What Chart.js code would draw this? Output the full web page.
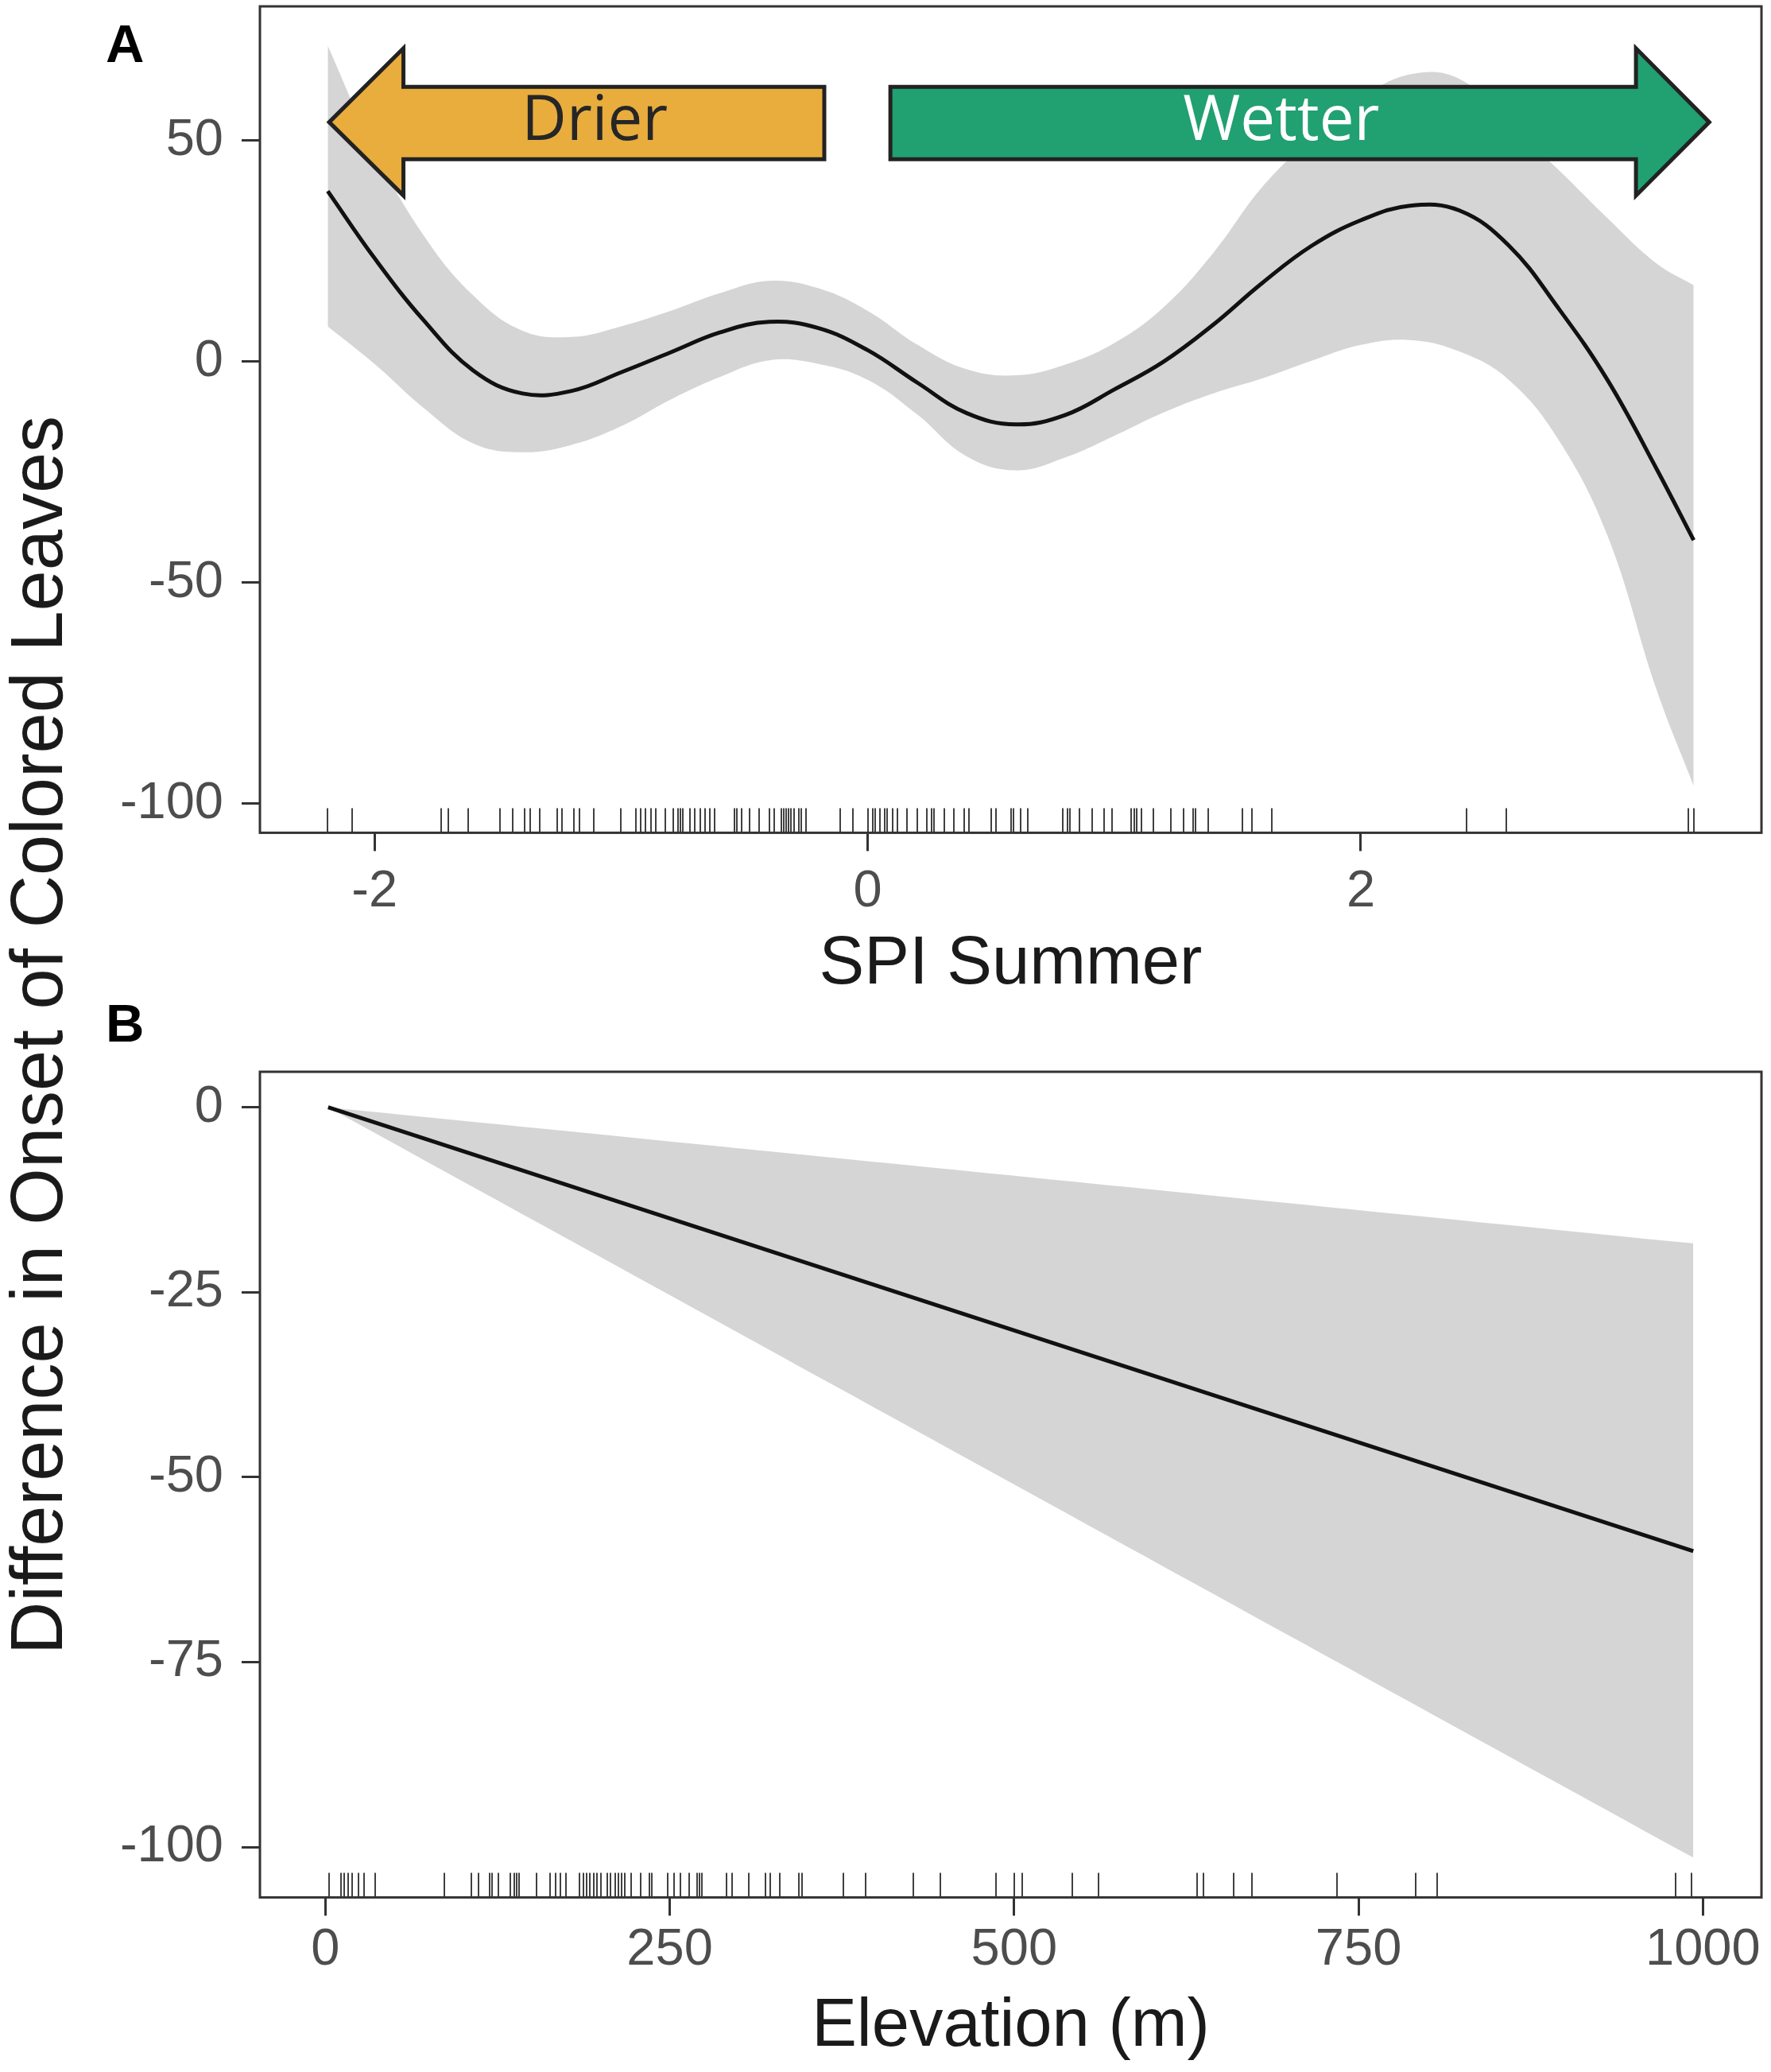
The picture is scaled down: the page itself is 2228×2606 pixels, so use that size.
<!doctype html>
<html lang="en">
  <head>
    <meta charset="utf-8">
    <title>Onset of colored leaves: SPI summer and elevation</title>
    <style>
      * {
        margin: 0;
        padding: 0;
      }
      body {
        width: 2228px;
        height: 2606px;
        position: relative;
        overflow: hidden;
        background: #ffffff;
        font-family: "Liberation Sans", Arial, sans-serif;
      }
      canvas {
        position: absolute;
        left: 0;
      }
      #chartA { top: 0; }
      #chartB { top: 1262px; }
      .panelTag {
        position: absolute;
        left: 133px;
        font-size: 67px;
        font-weight: bold;
        line-height: 1;
        color: #000;
      }
      #yTitle {
        position: absolute;
        left: 46px;
        top: 1302px;
        transform: translate(-50%, -50%) rotate(-90deg);
        white-space: nowrap;
        font-size: 92px;
        line-height: 1;
        color: #1a1a1a;
      }
    </style>
  </head>
  <body>
    <canvas id="chartA" width="2228" height="1262"></canvas>
    <canvas id="chartB" width="2228" height="1344"></canvas>
    <div class="panelTag" style="top:21px">A</div>
    <div class="panelTag" style="top:1253px">B</div>
    <div id="yTitle">Difference in Onset of Colored Leaves</div>

    <script src="https://cdn.jsdelivr.net/npm/chart.js"></script>
    <script>
    // panel A - smooth of SPI summer
    const spiGrid  = [-2.19, -2.0, -1.8, -1.6, -1.4, -1.2, -1.0, -0.8, -0.6, -0.4, -0.2, 0, 0.2, 0.4, 0.6,
                      0.8, 1.0, 1.2, 1.4, 1.6, 1.8, 2.0, 2.2, 2.4, 2.6, 2.8, 3.0, 3.2, 3.35];
    const spiFit   = [38.6, 23.4, 9.3, -2.0, -7.2, -6.6, -2.4, 2.1, 6.6, 9.0, 7.6, 2.6, -4.7, -11.6, -14.2,
                      -12.1, -6.3, 0.0, 8.3, 17.8, 26.2, 32.0, 35.3, 34.2, 26.3, 12.2, -4.1, -24.3, -40.4];
    const spiUpper = [71.5, 47.8, 28.5, 15.0, 7.0, 5.6, 8.0, 11.5, 15.5, 18.3, 16.6, 11.5, 3.9, -1.7, -3.1,
                      -0.7, 4.2, 12.3, 24.5, 39.5, 50.5, 59.5, 65.0, 64.0, 54.0, 43.5, 32.5, 22.2, 17.3];
    const spiLower = [8.0, -0.5, -10.5, -18.5, -20.5, -18.8, -14.6, -8.6, -3.5, 0.3, -0.5, -4.1, -11.9, -21.4, -24.6,
                      -21.7, -16.8, -11.5, -7.2, -3.8, 0.2, 3.8, 4.9, 2.3, -4.1, -17.5, -39.3, -74.3, -96.0];
    const spiRug   = [-2.19, -2.09, -1.73, -1.70, -1.62, -1.49, -1.44, -1.39, -1.37, -1.33, -1.26, -1.24, -1.19,
                      -1.17, -1.11, -1.00, -0.94, -0.92, -0.90, -0.88, -0.86, -0.82, -0.79, -0.77, -0.76, -0.75,
                      -0.72, -0.70, -0.68, -0.66, -0.64, -0.62, -0.54, -0.53, -0.51, -0.48, -0.44, -0.40, -0.38,
                      -0.35, -0.34, -0.33, -0.32, -0.31, -0.30, -0.28, -0.27, -0.25, -0.11, -0.06, 0.00, 0.02,
                      0.03, 0.05, 0.07, 0.08, 0.10, 0.12, 0.16, 0.20, 0.24, 0.26, 0.27, 0.31, 0.35, 0.39, 0.41,
                      0.50, 0.52, 0.58, 0.59, 0.62, 0.65, 0.79, 0.81, 0.82, 0.86, 0.91, 0.96, 0.99, 1.07, 1.08,
                      1.09, 1.11, 1.16, 1.23, 1.28, 1.32, 1.33, 1.38, 1.52, 1.56, 1.64, 2.43, 2.59, 3.33, 3.35];
    const spiTicksX = [-2, 0, 2];
    const spiTicksY = [50, 0, -50, -100];

    // panel B - linear term of elevation
    const elevGrid  = [2, 993];
    const elevFit   = [0, -60.0];
    const elevUpper = [0, -18.4];
    const elevLower = [0, -101.4];
    const elevRug   = [2.7, 11.6, 13.9, 16.6, 19.2, 24.2, 28.1, 36.4, 86.1, 105.9, 110.9, 119.2, 120.9, 125.8,
                       134.1, 137.4, 139.0, 140.7, 153.3, 162.9, 167.2, 170.5, 174.8, 184.7, 187.1, 189.4, 192.0,
                       194.7, 197.0, 200.3, 204.6, 206.9, 210.2, 212.6, 215.2, 217.5, 221.8, 229.1, 235.1, 236.7,
                       248.3, 253.3, 257.6, 264.2, 269.8, 271.5, 273.1, 291.3, 295.3, 307.2, 319.5, 322.8, 330.1,
                       343.7, 346.0, 375.8, 392.3, 427.1, 446.3, 486.7, 500.2, 506.0, 542.2, 561.4, 633.0, 637.3,
                       659.4, 672.6, 734.3, 791.4, 807.2, 980.2, 991.7];
    const elevTicksX = [0, 250, 500, 750, 1000];
    const elevTicksY = [0, -25, -50, -75, -100];

    const FONT = '"Liberation Sans", Arial, sans-serif';
    const BAND = '#d5d5d5';
    const INK = '#333333';

    function pts(xs, ys) {
      return xs.map((x, i) => ({x: x, y: ys[i]}));
    }

    // rug marks along the bottom of the panel
    const rugPlugin = {
      id: 'rug',
      afterDatasetsDraw(chart, args, opts) {
        const {ctx, chartArea, scales} = chart;
        ctx.save();
        ctx.strokeStyle = 'rgba(30,30,30,0.85)';
        ctx.lineWidth = 2;
        ctx.beginPath();
        opts.values.forEach(v => {
          const px = Math.round(scales.x.getPixelForValue(v));
          ctx.moveTo(px, chartArea.bottom);
          ctx.lineTo(px, chartArea.bottom - 31);
        });
        ctx.stroke();
        ctx.restore();
      }
    };

    // panel border (all four sides)
    const framePlugin = {
      id: 'frame',
      afterDraw(chart) {
        const {ctx, chartArea} = chart;
        ctx.save();
        ctx.strokeStyle = INK;
        ctx.lineWidth = 3;
        ctx.strokeRect(chartArea.left, chartArea.top, chartArea.right - chartArea.left, chartArea.bottom - chartArea.top);
        ctx.restore();
      }
    };

    // Drier / Wetter block arrows, placed in data units
    const arrowPlugin = {
      id: 'arrows',
      afterDatasetsDraw(chart, args, opts) {
        const {ctx, scales} = chart;
        const X = v => scales.x.getPixelForValue(v);
        const Y = v => scales.y.getPixelForValue(v);
        opts.items.forEach(a => {
          ctx.save();
          ctx.beginPath();
          ctx.moveTo(X(a.tip), Y(a.mid));
          ctx.lineTo(X(a.head), Y(a.headTop));
          ctx.lineTo(X(a.head), Y(a.bodyTop));
          ctx.lineTo(X(a.tail), Y(a.bodyTop));
          ctx.lineTo(X(a.tail), Y(a.bodyBot));
          ctx.lineTo(X(a.head), Y(a.bodyBot));
          ctx.lineTo(X(a.head), Y(a.headBot));
          ctx.closePath();
          ctx.fillStyle = a.fill;
          ctx.fill();
          ctx.lineWidth = 5;
          ctx.lineJoin = 'miter';
          ctx.strokeStyle = '#222222';
          ctx.stroke();
          ctx.fillStyle = a.textColor;
          ctx.font = '78px "Open Sans", sans-serif';
          ctx.textAlign = 'center';
          ctx.textBaseline = 'middle';
          ctx.fillText(a.label, X(a.textX), Y(a.mid));
          ctx.restore();
        });
      }
    };

    function buildOptions(p) {
      return {
        responsive: false,
        animation: false,
        devicePixelRatio: 1,
        layout: { padding: { top: p.padTop, right: 12, bottom: 0, left: 0 } },
        plugins: {
          legend: { display: false },
          tooltip: { enabled: false },
          rug: { values: p.rug },
          arrows: { items: p.arrows || [] }
        },
        scales: {
          x: {
            type: 'linear',
            min: p.xMin,
            max: p.xMax,
            afterBuildTicks: axis => { axis.ticks = p.xTicks.map(v => ({value: v})); },
            afterFit: axis => {
              axis.height = p.xAxisHeight;
              axis.paddingLeft = 0;
              axis.paddingRight = 0;
            },
            border: { display: false },
            grid: { drawOnChartArea: false, drawTicks: true, tickLength: 23, color: INK, lineWidth: 3 },
            ticks: { color: '#4d4d4d', padding: p.xTickPad, maxRotation: 0,
                     callback: v => String(v), font: { family: FONT, size: 65 } },
            title: {
              display: true,
              text: p.xTitle,
              color: '#1a1a1a',
              font: { family: FONT, size: 85, lineHeight: 1 },
              padding: { top: 0, bottom: p.titlePad }
            }
          },
          y: {
            type: 'linear',
            min: p.yMin,
            max: p.yMax,
            afterBuildTicks: axis => { axis.ticks = p.yTicks.map(v => ({value: v})); },
            afterFit: axis => {
              axis.width = 327;
              axis.paddingTop = 0;
              axis.paddingBottom = 0;
            },
            border: { display: false },
            grid: { drawOnChartArea: false, drawTicks: true, tickLength: 23, color: INK, lineWidth: 3 },
            ticks: { color: '#4d4d4d', padding: 23, callback: v => String(v),
                     font: { family: FONT, size: 65 } }
          }
        }
      };
    }

    // fit line gets the lowest order so it is drawn on top of the band
    function buildDatasets(xs, fit, upper, lower) {
      return [
        { data: pts(xs, upper), order: 2, fill: '+1', backgroundColor: BAND, borderWidth: 0, pointRadius: 0,
          tension: 0.4 },
        { data: pts(xs, lower), order: 3, fill: false, borderWidth: 0, pointRadius: 0, tension: 0.4 },
        { data: pts(xs, fit), order: 0, fill: false, borderColor: '#111111', borderWidth: 5, pointRadius: 0,
          tension: 0.4 }
      ];
    }

    const chartA = new Chart(document.getElementById('chartA'), {
      type: 'line',
      data: { datasets: buildDatasets(spiGrid, spiFit, spiUpper, spiLower) },
      options: buildOptions({
        padTop: 8, xAxisHeight: 214.6, xTickPad: 13, titlePad: 6,
        xMin: -2.465, xMax: 3.625, yMin: -106.6, yMax: 80.4,
        xTicks: spiTicksX, yTicks: spiTicksY, xTitle: 'SPI Summer', rug: spiRug,
        arrows: [
          { label: 'Drier', tip: -2.184, head: -1.883, tail: -0.176, textX: -1.107,
            mid: 54.2, bodyTop: 62.2, bodyBot: 45.8, headTop: 70.9, headBot: 37.6,
            fill: '#e8ad3d', textColor: '#262626' },
          { label: 'Wetter', tip: 3.413, head: 3.116, tail: 0.092, textX: 1.677,
            mid: 54.2, bodyTop: 62.2, bodyBot: 45.8, headTop: 70.9, headBot: 37.6,
            fill: '#21a072', textColor: '#ffffff' }
        ]
      }),
      plugins: [rugPlugin, arrowPlugin, framePlugin]
    });

    const chartB = new Chart(document.getElementById('chartB'), {
      type: 'line',
      data: { datasets: buildDatasets(elevGrid, elevFit, elevUpper, elevLower) },
      options: buildOptions({
        padTop: 86, xAxisHeight: 219.6, xTickPad: 5, titlePad: 14,
        xMin: -47.5, xMax: 1042.5, yMin: -106.8, yMax: 4.8,
        xTicks: elevTicksX, yTicks: elevTicksY, xTitle: 'Elevation (m)', rug: elevRug
      }),
      plugins: [rugPlugin, framePlugin]
    });
    </script>
  </body>
</html>
